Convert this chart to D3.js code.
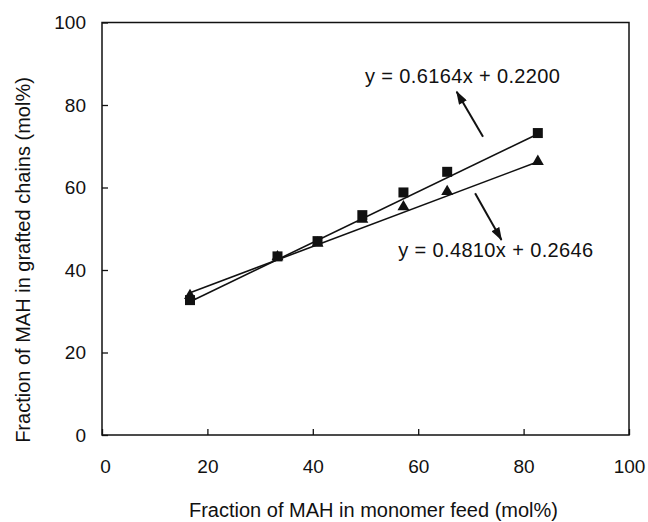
<!DOCTYPE html>
<html>
<head>
<meta charset="utf-8">
<script src="https://cdn.jsdelivr.net/npm/d3@7"></script>
<style>
  html, body { margin: 0; padding: 0; background: #fff; }
  text { font-family: "Liberation Sans", Arial, sans-serif; fill: #111; }
</style>
</head>
<body>
<div id="chart"></div>
<script>
// MAH fraction in monomer feed (mol%)
const feedMAH = [16.7, 33.3, 40.9, 49.4, 57.2, 65.5, 82.7];
// MAH fraction in grafted chains (mol%), two series
const graftedSquare = [32.7, 43.3, 47.0, 53.3, 58.8, 63.8, 73.2];
const graftedTriangle = [33.8, 43.2, 46.5, 52.3, 55.3, 59.0, 66.3];
// linear fits printed on the chart (fractions)
const fitSlopes = [0.6164, 0.4810];
const fitIntercepts = [0.2200, 0.2646];
const xTicks = [0, 20, 40, 60, 80, 100];
const yTicks = [0, 20, 40, 60, 80, 100];

const width = 648;
const height = 522;
const margin = {top: 22.5, right: 19, bottom: 87, left: 102};

const svg = d3.select("#chart")
    .append("svg")
    .attr("width", width)
    .attr("height", height);

svg.append("rect").attr("width", width).attr("height", height).attr("fill", "#fff");

const x = d3.scaleLinear().domain([0, 100]).range([margin.left, width - margin.right]);
const y = d3.scaleLinear().domain([0, 100]).range([height - margin.bottom, margin.top]);

// frame
svg.append("rect")
    .attr("x", x(0))
    .attr("y", y(100))
    .attr("width", x(100) - x(0))
    .attr("height", y(0) - y(100))
    .attr("fill", "none")
    .attr("stroke", "#111")
    .attr("stroke-width", 1.5);

// axes with inward ticks
const xAxis = svg.append("g")
    .attr("transform", `translate(0, ${y(0)})`)
    .call(d3.axisBottom(x).tickValues(xTicks).tickSizeInner(-6).tickSizeOuter(0).tickPadding(24));
const yAxis = svg.append("g")
    .attr("transform", `translate(${x(0)}, 0)`)
    .call(d3.axisLeft(y).tickValues(yTicks).tickSizeInner(-6).tickSizeOuter(0).tickPadding(16));

[xAxis, yAxis].forEach(g => {
    g.select(".domain").remove();
    g.selectAll(".tick line").attr("stroke", "#111").attr("stroke-width", 1.3);
    g.selectAll(".tick text")
        .style("font-family", '"Liberation Sans", Arial, sans-serif')
        .style("font-size", "19px")
        .attr("fill", "#111");
});
xAxis.selectAll(".tick text").attr("dy", "0.75em");
xAxis.selectAll(".tick").filter(d => d === 0).select("text").attr("dx", 3);

// axis titles
svg.append("text")
    .attr("x", (x(0) + x(100)) / 2 + 8)
    .attr("y", 517)
    .attr("text-anchor", "middle")
    .style("font-size", "20px")
    .text("Fraction of MAH in monomer feed (mol%)");

svg.append("text")
    .attr("transform", `translate(30, 260) rotate(-90)`)
    .attr("text-anchor", "middle")
    .style("font-size", "20px")
    .text("Fraction of MAH in grafted chains (mol%)");

// fit lines over the range of the data
const xExtent = d3.extent(feedMAH);
const line = d3.line().x(d => x(d[0])).y(d => y(d[1]));
fitSlopes.forEach((m, i) => {
    const pts = xExtent.map(v => [v, (m * v / 100 + fitIntercepts[i]) * 100]);
    svg.append("path")
        .attr("d", line(pts))
        .attr("fill", "none")
        .attr("stroke", "#111")
        .attr("stroke-width", 1.6);
});

// markers
const squares = feedMAH.map((v, i) => [v, graftedSquare[i]]);
const triangles = feedMAH.map((v, i) => [v, graftedTriangle[i]]);

svg.selectAll(".tri")
    .data(triangles)
    .enter()
    .append("path")
    .attr("class", "tri")
    .attr("transform", d => `translate(${x(d[0])}, ${y(d[1])})`)
    .attr("d", d3.symbol().type(d3.symbolTriangle).size(62))
    .attr("fill", "#111");

svg.selectAll(".sq")
    .data(squares)
    .enter()
    .append("path")
    .attr("class", "sq")
    .attr("transform", d => `translate(${x(d[0])}, ${y(d[1])})`)
    .attr("d", d3.symbol().type(d3.symbolSquare).size(100))
    .attr("fill", "#111");

// arrows and equation labels (positions in data units)
const defs = svg.append("defs");
defs.append("marker")
    .attr("id", "head")
    .attr("viewBox", "0 0 12 8")
    .attr("refX", 11)
    .attr("refY", 4)
    .attr("markerWidth", 7)
    .attr("markerHeight", 4.5)
    .attr("orient", "auto")
    .attr("markerUnits", "strokeWidth")
    .append("path")
    .attr("d", "M0,0 L12,4 L0,8 Z")
    .attr("fill", "#111");

const arrows = [
    {from: [72.3, 72.3], to: [67.3, 83.2]},
    {from: [70.8, 58.6], to: [75.8, 47.3]}
];
arrows.forEach(a => {
    svg.append("line")
        .attr("x1", x(a.from[0]))
        .attr("y1", y(a.from[1]))
        .attr("x2", x(a.to[0]))
        .attr("y2", y(a.to[1]))
        .attr("stroke", "#111")
        .attr("stroke-width", 2)
        .attr("marker-end", "url(#head)");
});

const labelPos = [[49.9, 85.3], [56.2, 43.2]];
fitSlopes.forEach((m, i) => {
    svg.append("text")
        .attr("x", x(labelPos[i][0]))
        .attr("y", y(labelPos[i][1]))
        .attr("textLength", 195)
        .attr("lengthAdjust", "spacing")
        .style("font-size", "20px")
        .text(`y = ${m.toFixed(4)}x + ${fitIntercepts[i].toFixed(4)}`);
});
</script>
</body>
</html>
